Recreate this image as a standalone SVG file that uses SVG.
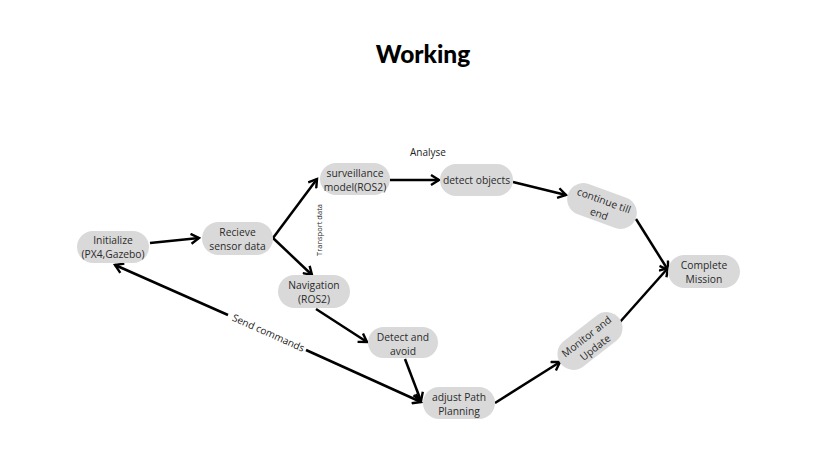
<svg xmlns="http://www.w3.org/2000/svg" width="837" height="454" viewBox="0 0 837 454">
<style>
.n{fill:#d9d9d9}
.t{font-family:"Open Sans","Liberation Sans",sans-serif;font-size:10.3px;fill:#2a2a2a;text-anchor:middle}
.l{font-family:"Open Sans","Liberation Sans",sans-serif;fill:#222;text-anchor:middle}
.c{stroke:#000;stroke-width:2.5;fill:none}
</style>
<defs>
<marker id="a" markerWidth="12" markerHeight="12" refX="9" refY="6" orient="auto" markerUnits="userSpaceOnUse" viewBox="0 0 12 12">
<path d="M1,1 L9,6 L1,11" fill="none" stroke="#000" stroke-width="2.4"/>
</marker>
</defs>
<rect width="837" height="454" fill="#fff"/>
<text x="423" y="63" font-family="Lato,'Open Sans',sans-serif" font-weight="900" font-size="24.5" text-anchor="middle" fill="#000">Working</text>
<g id="connectors">
<line class="c" x1="150" y1="243" x2="199" y2="238" marker-end="url(#a)"/>
<line class="c" x1="273" y1="238" x2="317" y2="179" marker-end="url(#a)"/>
<line class="c" x1="273" y1="238" x2="312" y2="275" marker-end="url(#a)"/>
<line class="c" x1="390" y1="180" x2="439" y2="180" marker-end="url(#a)"/>
<line class="c" x1="513" y1="182" x2="566" y2="195" marker-end="url(#a)"/>
<line class="c" x1="316" y1="309" x2="367" y2="342" marker-end="url(#a)"/>
<line class="c" x1="405" y1="359" x2="421" y2="401" marker-end="url(#a)"/>
<line class="c" x1="228" y1="315" x2="115" y2="265" marker-end="url(#a)"/>
<line class="c" x1="306" y1="350" x2="421" y2="402" marker-end="url(#a)"/>
<line class="c" x1="495" y1="403" x2="560" y2="362" marker-end="url(#a)"/>
<line class="c" x1="620" y1="322" x2="668" y2="268" marker-end="url(#a)"/>
<line class="c" x1="636" y1="219" x2="668" y2="270" marker-end="url(#a)"/>
<text class="l" font-size="10" x="428" y="156">Analyse</text>
<text class="l" font-size="7.5" transform="translate(322,230) rotate(-90)">Transport data</text>
<text class="l" font-size="10" transform="translate(267,336) rotate(24)">Send commands</text>
</g>
<g id="initialize"><rect class="n" x="77" y="231" width="72" height="32" rx="16"/><text class="t" x="113" y="244">Initialize</text><text class="t" x="113" y="258">(PX4,Gazebo)</text></g>
<g id="recieve"><rect class="n" x="202" y="222" width="71" height="33" rx="16.5"/><text class="t" x="237.5" y="236">Recieve</text><text class="t" x="237.5" y="250">sensor data</text></g>
<g id="surveillance"><rect class="n" x="320" y="163" width="70" height="32" rx="16"/><text class="t" x="355" y="177">surveillance</text><text class="t" x="355" y="191">model(ROS2)</text></g>
<g id="navigation"><rect class="n" x="278" y="275" width="72" height="33" rx="16.5"/><text class="t" x="314" y="289">Navigation</text><text class="t" x="314" y="303">(ROS2)</text></g>
<g id="detect-objects"><rect class="n" x="440" y="164" width="73" height="32" rx="16"/><text class="t" x="476.5" y="184">detect objects</text></g>
<g id="detect-avoid"><rect class="n" x="368" y="327" width="70" height="31" rx="15.5"/><text class="t" x="403" y="341">Detect and</text><text class="t" x="403" y="355">avoid</text></g>
<g id="adjust"><rect class="n" x="423" y="387" width="72" height="32" rx="16"/><text class="t" x="459" y="401">adjust Path</text><text class="t" x="459" y="415">Planning</text></g>
<g id="continue" transform="translate(602,206) rotate(20)"><rect class="n" x="-36" y="-16" width="72" height="32" rx="16"/><text class="t" x="0" y="-2">continue till</text><text class="t" x="0" y="12">end</text></g>
<g id="monitor" transform="translate(590,341) rotate(-38)"><rect class="n" x="-37" y="-16" width="74" height="32" rx="16"/><text class="t" x="0" y="-2">Monitor and</text><text class="t" x="0" y="12">Update</text></g>
<g id="complete"><rect class="n" x="668" y="255" width="72" height="33" rx="16.5"/><text class="t" x="704" y="269">Complete</text><text class="t" x="704" y="283">Mission</text></g>
</svg>
